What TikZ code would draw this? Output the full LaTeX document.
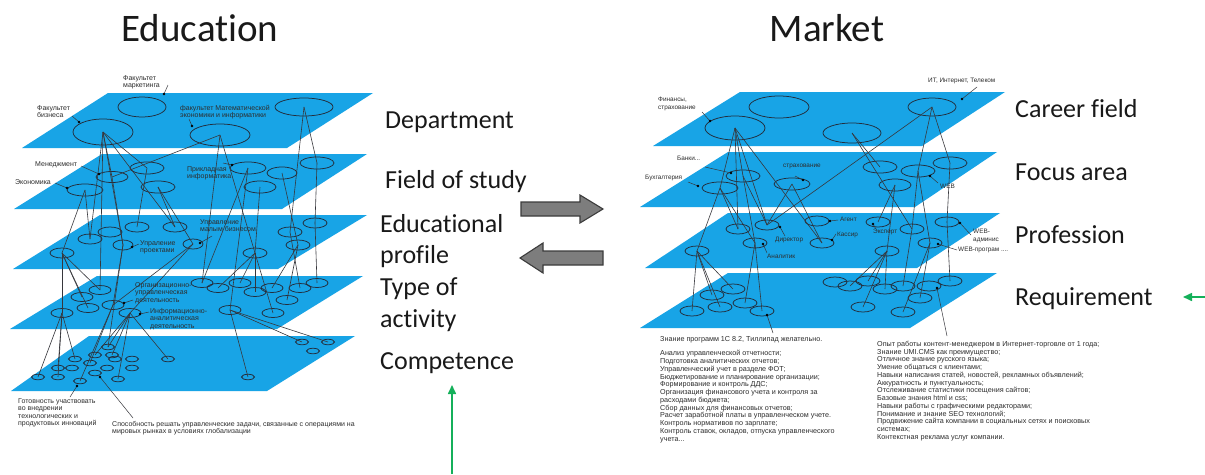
\documentclass[tikz,border=0pt]{standalone}
\usepackage{fontspec}
\setmainfont[Ligatures=CommonOff]{Carlito}
\newfontfamily\lsf{Liberation Sans}
\usetikzlibrary{shapes.geometric,arrows.meta}
\definecolor{planec}{RGB}{24,164,230}
\definecolor{ellc}{RGB}{35,45,60}
\definecolor{linec}{RGB}{55,55,60}
\definecolor{txtc}{RGB}{45,45,45}
\definecolor{blockfill}{RGB}{125,125,125}
\definecolor{blockline}{RGB}{60,60,60}
\definecolor{greenc}{RGB}{20,176,90}
\tikzset{
  plane/.style={fill=planec},
  ell/.style={draw=ellc, line width=0.75pt, ellipse, inner sep=0pt},
  conn/.style={draw=linec, line width=0.6pt},
  lead/.style={draw=linec, line width=0.5pt},
  lbl/.style={font=\lsf\fontsize{7}{7.5}\selectfont, text=txtc, inner sep=0pt, align=left, anchor=north west},
  rlbl/.style={font=\lsf\fontsize{6.4}{7.4}\selectfont, text=txtc, inner sep=0pt, align=left, anchor=north west},
  req/.style={font=\lsf\fontsize{7.2}{7.75}\selectfont, text=txtc, inner sep=0pt, align=left, anchor=north west},
  big/.style={font=\fontsize{26}{31}\selectfont, text=black!90, inner sep=0pt, anchor=base west},
  title/.style={font=\fontsize{39}{44}\selectfont, text=black!90, inner sep=0pt, anchor=base},
  blockarrow/.style={fill=blockfill, draw=blockline, line width=1.1pt, line join=miter},
  garrow/.style={draw=greenc, line width=1.6pt, -{Triangle[width=8pt,length=9pt]}}
}
% ellipse node: name, x, y, width, height
\newcommand\ov[5]{\node[ell, minimum width=#4, minimum height=#5] (#1) at (#2,#3) {};}
% leader line: name, start, end (dot at the end)
\newcommand\ldr[3]{\coordinate (#1s) at (#2); \coordinate (#1e) at (#3);
  \draw[lead] (#1s) -- (#1e); \fill[black] (#1e) circle (1.4);}
\begin{document}
\begin{tikzpicture}[x=1pt,y=-1pt]
\useasboundingbox (0,0) rectangle (1205,474);
\fill[white] (0,0) rectangle (1205,474);

% ---------- titles ----------
\node[title] (edu) at (200,41) {Education};
\node[title] (mkt) at (827,41) {Market};

% ---------- education planes ----------
\fill[plane] (108,93) -- (373,93) -- (287,148) -- (22,148) -- cycle;
\fill[plane] (102,154) -- (367,154) -- (282,209) -- (14,209) -- cycle;
\fill[plane] (100,215) -- (367,215) -- (278,269) -- (13,269) -- cycle;
\fill[plane] (97,276) -- (363,276) -- (277,329) -- (10,329) -- cycle;
\fill[plane] (89,336) -- (355,336) -- (267,391) -- (11,391) -- cycle;

% departments
\ov{L1a}{142}{107}{48}{20}
\ov{L1b}{103}{132}{60}{26}
\ov{L1c}{220}{135}{60}{22}
\ov{L1d}{304}{107}{58}{18}
% fields of study
\ov{L2a}{112}{177}{32}{11}
\ov{L2b}{85}{190}{36}{12}
\ov{L2c}{147}{168}{34}{12}
\ov{L2d}{158}{187}{34}{12}
\ov{L2e}{248}{168}{36}{12}
\ov{L2f}{260}{187}{32}{12}
\ov{L2g}{282}{173}{30}{12}
\ov{L2h}{317}{163}{34}{12}
% educational profiles
\ov{L3a}{90}{239}{24}{10}
\ov{L3b}{110}{232}{24}{10}
\ov{L3c}{137}{227}{24}{10}
\ov{L3d}{175}{227}{24}{10}
\ov{L3e}{62}{253}{24}{10}
\ov{L3f}{123}{245}{20}{10}
\ov{L3g}{193}{244}{20}{10}
\ov{L3h}{255}{253}{24}{10}
\ov{L3i}{290}{232}{24}{10}
\ov{L3j}{298}{245}{24}{10}
\ov{L3k}{315}{223}{24}{10}
% types of activity
\ov{L4a}{202}{283}{22}{9}
\ov{L4b}{218}{288}{22}{9}
\ov{L4c}{240}{283}{22}{9}
\ov{L4d}{255}{292}{22}{9}
\ov{L4e}{272}{288}{22}{9}
\ov{L4f}{300}{288}{22}{9}
\ov{L4g}{317}{283}{22}{9}
\ov{L4h}{287}{300}{22}{9}
\ov{L4i}{273}{313}{22}{9}
\ov{L4j}{230}{310}{22}{9}
\ov{L4k}{100}{290}{22}{9}
\ov{L4l}{82}{297}{22}{9}
\ov{L4m}{88}{308}{22}{9}
\ov{L4n}{113}{305}{22}{9}
\ov{L4o}{62}{313}{22}{9}
\ov{L4p}{130}{313}{22}{9}
% competences
\ov{L5a}{108}{347}{13}{5.5}
\ov{L5b}{95}{355}{13}{5.5}
\ov{L5c}{112}{355}{13}{5.5}
\ov{L5d}{75}{359}{13}{5.5}
\ov{L5e}{115}{359}{13}{5.5}
\ov{L5f}{132}{359}{13}{5.5}
\ov{L5g}{168}{359}{13}{5.5}
\ov{L5h}{90}{363}{13}{5.5}
\ov{L5i}{58}{368}{13}{5.5}
\ov{L5j}{72}{368}{13}{5.5}
\ov{L5k}{107}{368}{13}{5.5}
\ov{L5l}{132}{368}{13}{5.5}
\ov{L5m}{95}{373}{13}{5.5}
\ov{L5n}{38}{377}{13}{5.5}
\ov{L5o}{58}{377}{13}{5.5}
\ov{L5p}{80}{381}{13}{5.5}
\ov{L5q}{118}{379}{13}{5.5}
\ov{L5r}{248}{377}{13}{5.5}
\ov{L5s}{302}{342}{13}{5.5}
\ov{L5t}{328}{342}{13}{5.5}
\ov{L5u}{313}{351}{13}{5.5}

\foreach \a/\b in {L1b/L2a,L1b/L2c,L1b/L3a,L1b/L3f,L1b/L3d,L1b/L4k,
  L1c/L2a,L1c/L4a,L1c/L3h,L1d/L2h,L1d/L3i,
  L2b/L3e,L2b/L3a,L2a/L3f,L2d/L3d,L2d/L3g,L2c/L3c,L2e/L4a,L2e/L4j,
  L2f/L3h,L2g/L3j,L2h/L3k,
  L3e/L4l,L3e/L4m,L3e/L4k,L3e/L4o,L3f/L4n,L3f/L5a,L3g/L4n,L3g/L4p,
  L3h/L4b,L3h/L4c,L3h/L4d,L3h/L4i,L3i/L4f,L3j/L4e,L3j/L4h,L3k/L4g,
  L4o/L5n,L4o/L5i,L4o/L5o,L4o/L5d,L4p/L5a,L4p/L5b,L4p/L5c,L4p/L5q,L4p/L5g,
  L4n/L5h,L4n/L5p,L4j/L5s,L4j/L5t,L4j/L5r}
  \draw[conn] (\a.center) -- (\b.center);

% education labels
\node[lbl] (fm) at (123,75) {Факультет\\маркетинга};
\ldr{fm}{168,85}{164,94}
\node[lbl] (fb) at (37,105) {Факультет\\бизнеса};
\ldr{fb}{72,116}{79,122}
\node[lbl] (fmi) at (180,105) {факультет Математической\\экономики и информатики};
\ldr{fmi}{189,119}{192,126}
\node[lbl] (men) at (35,161) {Менеджмент};
\ldr{men}{81,166}{99,174}
\node[lbl] (eco) at (15,179) {Экономика};
\ldr{eco}{55,183}{67,188}
\node[lbl] (pinf) at (187,166) {Прикладная\\информатика};
\ldr{pinf}{223,163}{232,165}
\node[lbl] (umb) at (200,219) {Управление\\малым бизнесом};
\ldr{umb}{212,236}{200,243}
\node[lbl] (upr) at (140,240) {Упраление\\проектами};
\ldr{upr}{139,244}{132,247}
\node[lbl] (oud) at (135,282) {Организационно-\\управленческая\\деятельность};
\ldr{oud}{133,300}{124,303}
\node[lbl] (iad) at (150,308) {Информационно-\\аналитическая\\деятельность};
\ldr{iad}{149,312}{140,314}
\node[lbl] (gotov) at (18,398) {Готовность участвовать\\во внедрении\\технологических и\\продуктовых инноваций};
\ldr{gotov}{70,397}{77,386}
\node[lbl] (spos) at (112,421) {Способность решать управленческие задачи, связанные с операциями на\\мировых рынках в условиях глобализации};
\ldr{spos}{133,418}{100,377}

% level names (education)
\node[big] (dep) at (385,128) {Department};
\node[big] (fos) at (385,188) {Field of study};
\node[big] (ep1) at (380,232) {Educational};
\node[big] (ep2) at (380,263) {profile};
\node[big] (ta1) at (380,295) {Type of};
\node[big] (ta2) at (380,327) {activity};
\node[big] (cmp) at (380,369) {Competence};

% ---------- exchange arrows ----------
\draw[blockarrow] (521,202) -- (580,202) -- (580,195) -- (603,209) -- (580,223) -- (580,216) -- (521,216) -- cycle;
\draw[blockarrow] (603,251) -- (543,251) -- (543,243) -- (520,258) -- (543,273) -- (543,265) -- (603,265) -- cycle;

% ---------- market planes ----------
\fill[plane] (740,92) -- (1005,92) -- (922,146) -- (653,146) -- cycle;
\fill[plane] (728,152) -- (997,152) -- (915,207) -- (640,207) -- cycle;
\fill[plane] (728,213) -- (1000,213) -- (917,268) -- (645,268) -- cycle;
\fill[plane] (728,273) -- (997,273) -- (910,328) -- (640,328) -- cycle;

% career fields
\ov{R1a}{779}{107}{60}{22}
\ov{R1b}{735}{128}{60}{24}
\ov{R1c}{852}{133}{58}{20}
\ov{R1d}{932}{107}{48}{18}
% focus areas
\ov{R2a}{743}{176}{34}{12}
\ov{R2b}{720}{188}{36}{12}
\ov{R2c}{792}{184}{36}{12}
\ov{R2d}{880}{167}{34}{12}
\ov{R2e}{918}{171}{34}{12}
\ov{R2f}{950}{163}{34}{12}
\ov{R2g}{895}{185}{32}{12}
% professions
\ov{R3a}{738}{229}{24}{10}
\ov{R3b}{767}{225}{24}{10}
\ov{R3c}{817}{221}{24}{10}
\ov{R3d}{697}{251}{24}{10}
\ov{R3e}{755}{243}{24}{10}
\ov{R3f}{822}{243}{24}{10}
\ov{R3g}{878}{222}{24}{10}
\ov{R3h}{912}{229}{24}{10}
\ov{R3i}{947}{222}{24}{10}
\ov{R3j}{930}{243}{24}{10}
\ov{R3k}{887}{251}{24}{10}
% requirements
\ov{R4a}{835}{282}{24}{10}
\ov{R4b}{850}{286}{24}{10}
\ov{R4c}{868}{281}{24}{10}
\ov{R4d}{885}{289}{24}{10}
\ov{R4e}{903}{286}{24}{10}
\ov{R4f}{929}{286}{24}{10}
\ov{R4g}{950}{281}{24}{10}
\ov{R4h}{733}{289}{24}{10}
\ov{R4i}{712}{295}{24}{10}
\ov{R4j}{720}{307}{24}{10}
\ov{R4k}{745}{303}{24}{10}
\ov{R4l}{692}{311}{24}{10}
\ov{R4m}{762}{311}{24}{10}
\ov{R4n}{863}{307}{24}{10}
\ov{R4o}{903}{312}{24}{10}
\ov{R4p}{920}{298}{24}{10}

\foreach \a/\b in {R1b/R2a,R1b/R2b,R1b/R3b,R1b/R3f,R1b/R3a,
  R1c/R2d,R1c/R3h,R1d/R2f,R1d/R2e,R1d/R3b,
  R2b/R3d,R2b/R3a,R2b/R3e,R2a/R3e,R2a/R3b,R2c/R3b,R2c/R3f,
  R2g/R3k,R2g/R3g,R2e/R3j,R2e/R3h,R2f/R3i,
  R3d/R4i,R3d/R4j,R3d/R4h,R3d/R4l,R3e/R4k,R3e/R4m,
  R3k/R4b,R3k/R4n,R3k/R4c,R3k/R4d,R3j/R4o,R3j/R4p,R3i/R4g,R3h/R4e}
  \draw[conn] (\a.center) -- (\b.center);

% market labels
\node[rlbl] (fin) at (658,97) {Финансы,\\страхование};
\ldr{fin}{702,112}{710,121}
\node[rlbl] (itl) at (928,78) {ИТ, Интернет, Телеком};
\ldr{itl}{977,87}{962,99}
\node[rlbl] (bank) at (677,156) {Банки...};
\ldr{bank}{705,167}{731,173}
\node[rlbl] (buh) at (645,175) {Бухгалтерия};
\ldr{buh}{688,182}{698,186}
\node[rlbl] (strh) at (783,164) {страхование};
\ldr{strh}{795,176}{803,180}
\node[rlbl] (web) at (940,184) {WEB};
\ldr{web}{938,183}{930,176}
\node[rlbl] (agent) at (840,217) {Агент};
\ldr{agent}{838,220}{830,221}
\node[rlbl] (dir) at (775,237) {Директор};
\ldr{dir}{785,236}{780,227}
\node[rlbl] (kas) at (837,232) {Кассир};
\ldr{kas}{836,234}{832,240}
\node[rlbl] (expt) at (873,229) {Эксперт};
\ldr{expt}{876,229}{873,224}
\node[rlbl] (anl) at (767,254) {Аналитик};
\ldr{anl}{767,253}{763,244}
\node[rlbl] (wadm) at (973,229) {WEB-\\админис};
\ldr{wadm}{971,235}{960,223}
\node[rlbl] (wprog) at (958,247) {WEB-програм ....};
\ldr{wprog}{957,250}{938,244}

% requirement lists
\node[req] (rq1) at (660,336) {Знание программ 1С 8.2, Тиллипад желательно.\\[7pt]
Анализ управленческой отчетности;\\
Подготовка аналитических отчетов;\\
Управленческий учет в разделе ФОТ;\\
Бюджетирование и планирование организации;\\
Формирование и контроль ДДС;\\
Организация финансового учета и контроля за\\
расходами бюджета;\\
Сбор данных для финансовых отчетов;\\
Расчет заработной платы в управленческом учете.\\
Контроль нормативов по зарплате;\\
Контроль ставок, окладов, отпуска управленческого\\
учета...};
\ldr{rq1}{773,333}{767,315}
\node[req] (rq2) at (877,341) {Опыт работы контент-менеджером в Интернет-торговле от 1 года;\\
Знание UMI.CMS как преимущество;\\
Отличное знание русского языка;\\
Умение общаться с клиентами;\\
Навыки написания статей, новостей, рекламных объявлений;\\
Аккуратность и пунктуальность;\\
Отслеживание статистики посещения сайтов;\\
Базовые знания html и css;\\
Навыки работы с графическими редакторами;\\
Понимание и знание SEO технологий;\\
Продвижение сайта компании в социальных сетях и поисковых\\
системах;\\
Контекстная реклама услуг компании.};
\ldr{rq2}{947,336}{937,288}

% level names (market)
\node[big] (cf) at (1015,117) {Career field};
\node[big] (fa) at (1015,180) {Focus area};
\node[big] (prof) at (1015,243) {Profession};
\node[big] (reqm) at (1015,305) {Requirement};

% ---------- green pointers ----------
\coordinate (gA0) at (452,474);
\coordinate (gA1) at (452,385);
\draw[garrow] (gA0) -- (gA1);
\coordinate (gB0) at (1205,297);
\coordinate (gB1) at (1183,297);
\draw[garrow] (gB0) -- (gB1);
\end{tikzpicture}
\end{document}
